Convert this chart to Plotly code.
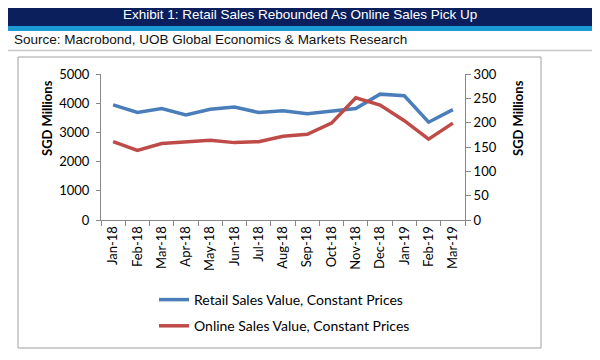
import plotly.graph_objects as go

months = ["Jan-18", "Feb-18", "Mar-18", "Apr-18", "May-18", "Jun-18", "Jul-18",
          "Aug-18", "Sep-18", "Oct-18", "Nov-18", "Dec-18", "Jan-19", "Feb-19", "Mar-19"]
retail_sales = [3940, 3680, 3815, 3600, 3795, 3870, 3680, 3740, 3635, 3740, 3815, 4310, 4255, 3350, 3780]
online_sales = [161, 143, 157, 160, 164, 159, 161, 172, 176, 199, 251, 236, 204, 166, 199]

title_text = "Exhibit 1: Retail Sales Rebounded As Online Sales Pick Up"
source_text = "Source: Macrobond, UOB Global Economics & Markets Research"

OFF = 8  # page body margin of the html page
W, H = 600 - OFF, 360 - OFF
# plot area in page pixels
L, R, T, B = 101, 465, 74, 220


def px(x):
    return (x - L) / (R - L)


def py(y):
    return (B - y) / (B - T)


fig = go.Figure()
fig.add_trace(go.Scatter(
    x=months, y=retail_sales, mode="lines", name="Retail Sales Value, Constant Prices",
    line=dict(color="#4A7EBB", width=3.5), legendgroup="a", yaxis="y"))
fig.add_trace(go.Scatter(
    x=months, y=online_sales, mode="lines", name="Online Sales Value, Constant Prices",
    line=dict(color="#BE4B48", width=3.5), legendgroup="b", yaxis="y2"))

axis_font = dict(family="Lato, Carlito, sans-serif", size=13, color="#000")

shapes = [
    dict(type="rect", xref="paper", yref="paper", x0=px(4), x1=px(594), y0=py(0), y1=py(26),
         fillcolor="#0B1F5C", line=dict(width=0), layer="below"),
    dict(type="rect", xref="paper", yref="paper", x0=px(4), x1=px(594), y0=py(26), y1=py(31),
         fillcolor="#1C9AD6", line=dict(width=0), layer="below"),
    dict(type="line", xref="paper", yref="paper", x0=px(4), x1=px(594), y0=py(50.5), y1=py(50.5),
         line=dict(color="#C8C8C8", width=1.5)),
    dict(type="rect", xref="paper", yref="paper", x0=px(18), x1=px(541), y0=py(57), y1=py(348),
         line=dict(color="#A0A0A0", width=1), layer="below"),
]

annotations = [
    dict(text=title_text, xref="paper", yref="paper", x=px(300), y=py(15), showarrow=False,
         font=dict(family="Liberation Sans, Arial, sans-serif", size=13.5, color="white"),
         xanchor="center", yanchor="middle"),
    dict(text=source_text, xref="paper", yref="paper", x=px(12), y=py(40), showarrow=False,
         font=dict(family="Liberation Sans, Arial, sans-serif", size=13.5, color="#111"),
         xanchor="left", yanchor="middle"),
    dict(text="<b>SGD Millions</b>", xref="paper", yref="paper", x=px(47), y=py(118), showarrow=False,
         textangle=-90, font=axis_font, xanchor="center", yanchor="middle"),
    dict(text="<b>SGD Millions</b>", xref="paper", yref="paper", x=px(518), y=py(118), showarrow=False,
         textangle=-90, font=axis_font, xanchor="center", yanchor="middle"),
]

fig.update_layout(
    width=W, height=H,
    margin=dict(l=L - OFF, r=W - (R - OFF), t=T - OFF, b=H - (B - OFF), pad=0),
    paper_bgcolor="white", plot_bgcolor="white",
    font=axis_font,
    showlegend=True,
    legend=dict(x=px(154), y=py(284), xanchor="left", yanchor="top",
                font=dict(family="Lato, Carlito, sans-serif", size=14, color="#000"),
                bgcolor="rgba(0,0,0,0)", tracegroupgap=5, itemwidth=30),
    xaxis=dict(type="category", range=[-0.5, 14.5], tickangle=-90, tickson="boundaries",
               ticks="outside", ticklen=5, tickcolor="#888", showline=True, linecolor="#888",
               showgrid=False, zeroline=False, tickfont=axis_font),
    yaxis=dict(range=[0, 5000], dtick=1000, ticks="outside", ticklen=4, tickcolor="#888",
               showline=True, linecolor="#888", showgrid=False, zeroline=False, tickfont=axis_font,
               ticklabelstandoff=4),
    yaxis2=dict(range=[0, 300], dtick=50, overlaying="y", side="right", ticks="outside", ticklen=5,
                tickcolor="#888", showline=True, linecolor="#888", showgrid=False, zeroline=False,
                tickfont=axis_font),
    shapes=shapes,
    annotations=annotations,
)

fig.write_html("out.html")
